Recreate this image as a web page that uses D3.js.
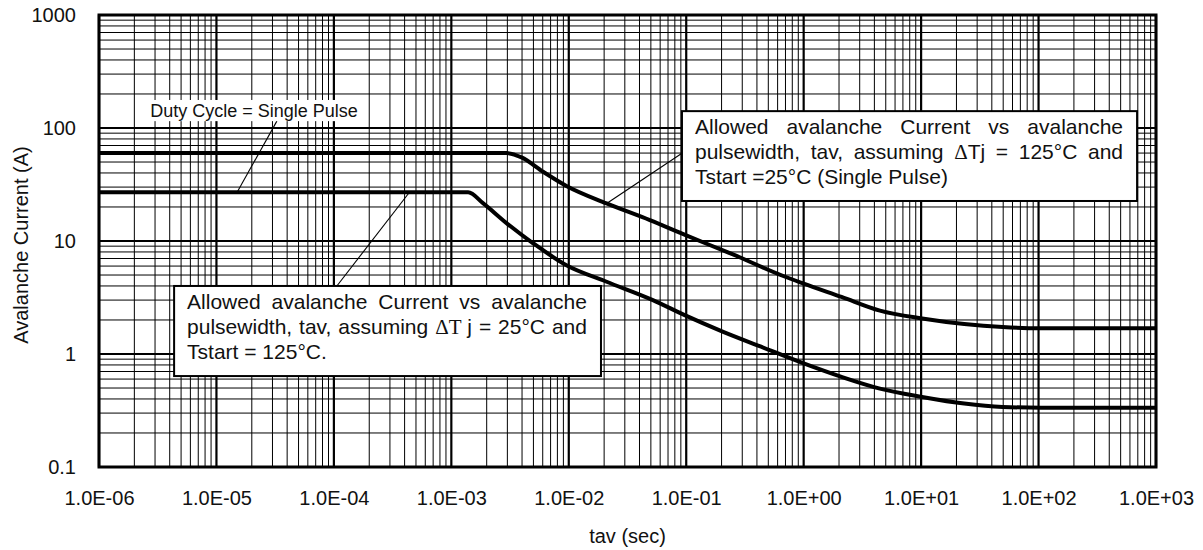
<!DOCTYPE html>
<html>
<head>
<meta charset="utf-8">
<script src="https://cdn.jsdelivr.net/npm/d3@7"></script>
<style>
  body { margin: 0; background: #fff; }
  svg { display: block; }
</style>
</head>
<body>
<div id="container"></div>
<script>
// Single-pulse avalanche curve, Tstart = 25°C
const tavUpper = [1e-6, 2.95e-3, 3.96e-3, 6.04e-3, 9.55e-3, 2.1e-2, 4.9e-2, 1e-1, 2.5e-1, 6.7e-1, 1.0, 2.1, 4.46, 10.2, 23.3, 49.4, 105, 1000];
const ampUpper = [60, 60, 55, 41, 30.7, 21.5, 15.3, 11.2, 7.6, 4.9, 4.2, 3.2, 2.42, 2.06, 1.84, 1.73, 1.69, 1.69];

// Tstart = 125°C
const tavLower = [1e-6, 1.39e-3, 1.87e-3, 2.95e-3, 4.97e-3, 9.55e-3, 2.1e-2, 5.2e-2, 9.6e-2, 0.204, 0.434, 1.0, 2.1, 4.46, 10.2, 23.3, 49.4, 105, 1000];
const ampLower = [27, 27, 21.5, 14.4, 9.55, 6.1, 4.36, 3.0, 2.22, 1.58, 1.16, 0.826, 0.628, 0.494, 0.417, 0.364, 0.340, 0.335, 0.335];

const xTicks = [1e-6, 1e-5, 1e-4, 1e-3, 1e-2, 1e-1, 1e0, 1e1, 1e2, 1e3];
const yTicks = [0.1, 1, 10, 100, 1000];

const xTitle = "tav (sec)";
const yTitle = "Avalanche Current (A)";

const noteSingle = "Duty Cycle = Single Pulse";
const noteUpper = [
  "Allowed avalanche Current vs avalanche",
  "pulsewidth, tav, assuming {Δ}Tj = 125°C and",
  "Tstart =25°C (Single Pulse)"
];
const noteLower = [
  "Allowed avalanche Current vs avalanche",
  "pulsewidth, tav, assuming {ΔT}\u00a0j = 25°C and",
  "Tstart = 125°C."
];

const width = 1203, height = 550;
const margin = {left: 99, top: 15, right: 47, bottom: 83};
const FONT = "'Liberation Sans', Arial, Helvetica, sans-serif";
const SERIF = "'Liberation Serif', 'Times New Roman', serif";

const svg = d3.select("#container")
  .append("svg")
  .attr("width", width)
  .attr("height", height);

svg.append("rect").attr("width", width).attr("height", height).attr("fill", "#fff");

const x = d3.scaleLog()
  .domain([1e-6, 1e3])
  .range([margin.left, width - margin.right]);
const y = d3.scaleLog()
  .domain([0.1, 1000])
  .range([height - margin.bottom, margin.top]);

// minor values 2..9 in every decade
function minors(domain) {
  let out = [];
  let lo = Math.round(Math.log10(domain[0])), hi = Math.round(Math.log10(domain[1]));
  for (let e = lo; e < hi; e++) {
    for (let k = 2; k <= 9; k++) out.push(k * Math.pow(10, e));
  }
  return out;
}

const grid = svg.append("g").attr("stroke", "#000").attr("fill", "none");

grid.selectAll(".vminor")
  .data(minors(x.domain()))
  .join("line")
  .attr("x1", d => x(d)).attr("x2", d => x(d))
  .attr("y1", y.range()[0]).attr("y2", y.range()[1])
  .attr("stroke-width", 1);

grid.selectAll(".hminor")
  .data(minors(y.domain()))
  .join("line")
  .attr("y1", d => y(d)).attr("y2", d => y(d))
  .attr("x1", x.range()[0]).attr("x2", x.range()[1])
  .attr("stroke-width", 1);

grid.selectAll(".vmajor")
  .data(xTicks)
  .join("line")
  .attr("x1", d => x(d)).attr("x2", d => x(d))
  .attr("y1", y.range()[0]).attr("y2", y.range()[1])
  .attr("stroke-width", 2.2);

grid.selectAll(".hmajor")
  .data(yTicks)
  .join("line")
  .attr("y1", d => y(d)).attr("y2", d => y(d))
  .attr("x1", x.range()[0]).attr("x2", x.range()[1])
  .attr("stroke-width", 2.2);

// curves
const line = d3.line()
  .x(d => x(d[0]))
  .y(d => y(d[1]))
  .curve(d3.curveMonotoneX);

[[tavUpper, ampUpper], [tavLower, ampLower]].forEach(([ts, as]) => {
  svg.append("path")
    .datum(ts.map((t, i) => [t, as[i]]))
    .attr("d", line)
    .attr("fill", "none")
    .attr("stroke", "#000")
    .attr("stroke-width", 4)
    .attr("stroke-linejoin", "round");
});

// leader lines (data space: curve point -> box edge)
const leaders = [
  [[1.5e-5, 27], [3.27e-5, 115]],
  [[0.021, 21.5], [0.092, 59.7]],
  [[4.4e-4, 27], [1.06e-4, 4.0]]
];
svg.append("g")
  .selectAll("line")
  .data(leaders)
  .join("line")
  .attr("x1", d => x(d[0][0])).attr("y1", d => y(d[0][1]))
  .attr("x2", d => x(d[1][0])).attr("y2", d => y(d[1][1]))
  .attr("stroke", "#000")
  .attr("stroke-width", 1.1);

// frame
svg.append("rect")
  .attr("x", x.range()[0]).attr("y", y.range()[1])
  .attr("width", x.range()[1] - x.range()[0])
  .attr("height", y.range()[0] - y.range()[1])
  .attr("fill", "none")
  .attr("stroke", "#000")
  .attr("stroke-width", 3);

// axes (labels only, grid drawn above)
const fmtX = d => {
  let e = Math.round(Math.log10(d));
  return "1.0E" + (e < 0 ? "-" : "+") + String(Math.abs(e)).padStart(2, "0");
};

const xAxis = svg.append("g")
  .attr("transform", `translate(0,${y.range()[0]})`)
  .call(d3.axisBottom(x).tickValues(xTicks).tickFormat(fmtX).tickSize(0).tickPadding(24));
const yAxis = svg.append("g")
  .attr("transform", `translate(${x.range()[0]},0)`)
  .call(d3.axisLeft(y).tickValues(yTicks).tickFormat(d => String(d)).tickSize(0).tickPadding(23));

[xAxis, yAxis].forEach(a => {
  a.select(".domain").remove();
  a.selectAll("text")
    .attr("font-family", FONT)
    .attr("font-size", 20)
    .attr("fill", "#111");
});

svg.append("text")
  .attr("x", (x.range()[0] + x.range()[1]) / 2)
  .attr("y", 543)
  .attr("text-anchor", "middle")
  .attr("font-family", FONT)
  .attr("font-size", 20)
  .attr("fill", "#111")
  .text(xTitle);

svg.append("text")
  .attr("transform", "translate(28,245) rotate(-90)")
  .attr("text-anchor", "middle")
  .attr("font-family", FONT)
  .attr("font-size", 20)
  .attr("fill", "#111")
  .text(yTitle);

// annotation boxes
function addSegments(t, str) {
  str.split(/(\{[^}]*\})/).filter(s => s).forEach(s => {
    if (s[0] == "{") t.append("tspan").attr("font-family", SERIF).text(s.slice(1, -1));
    else t.append("tspan").text(s);
  });
}

function noteBox(lines, t0, t1, vTop, vBot, border) {
  let bx0 = x(t0), bx1 = x(t1), by0 = y(vTop), by1 = y(vBot);
  let g = svg.append("g");
  g.append("rect")
    .attr("x", bx0).attr("y", by0)
    .attr("width", bx1 - bx0).attr("height", by1 - by0)
    .attr("fill", "#fff")
    .attr("stroke", border ? "#000" : "none")
    .attr("stroke-width", 2);

  let left = bx0 + 13, right = bx1 - 14;
  lines.forEach((ln, i) => {
    let baseline = by0 + 23 + i * 25;
    let last = i == lines.length - 1;
    if (last) {
      let t = g.append("text")
        .attr("x", left).attr("y", baseline)
        .attr("font-family", FONT).attr("font-size", 21).attr("fill", "#111");
      addSegments(t, ln);
      return;
    }
    let words = ln.split(" ");
    let nodes = words.map(w => {
      let t = g.append("text")
        .attr("y", baseline)
        .attr("font-family", FONT).attr("font-size", 21).attr("fill", "#111");
      addSegments(t, w);
      return t;
    });
    let widths = nodes.map(n => n.node().getComputedTextLength());
    let gap = (right - left - d3.sum(widths)) / (words.length - 1);
    let cx = left;
    nodes.forEach((n, j) => {
      n.attr("x", cx);
      cx += widths[j] + gap;
    });
  });
  return g;
}

noteBox(noteUpper, 0.092, 690, 141, 22.6, true);
noteBox(noteLower, 4.36e-6, 0.0188, 4.0, 0.638, true);

// small single pulse label
const single = svg.append("g");
single.append("rect")
  .attr("x", x(2.57e-6)).attr("y", y(177))
  .attr("width", x(1.91e-4) - x(2.57e-6))
  .attr("height", y(115) - y(177))
  .attr("fill", "#fff");
single.append("text")
  .attr("x", x(2.57e-6) + 3)
  .attr("y", y(115) - 4)
  .attr("font-family", FONT)
  .attr("font-size", 18)
  .attr("fill", "#111")
  .text(noteSingle);
</script>
</body>
</html>
